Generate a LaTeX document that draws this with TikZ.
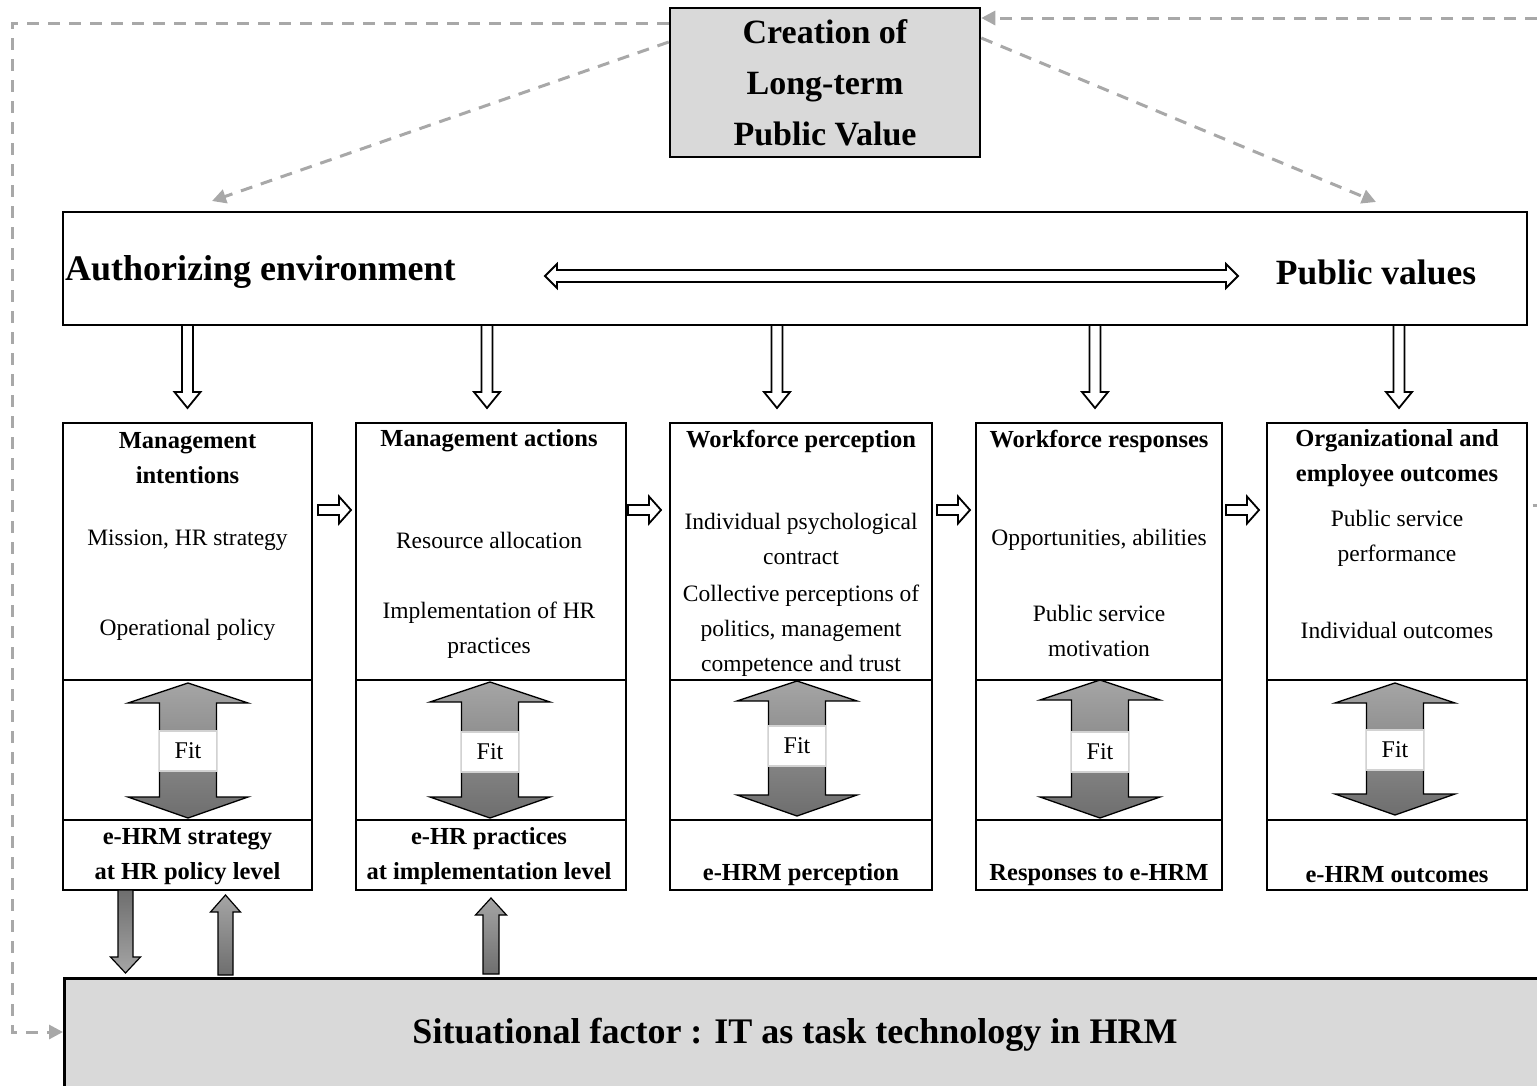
\documentclass[tikz,border=0pt]{standalone}
\usepackage{fontspec}
\setmainfont{Liberation Serif}
\usetikzlibrary{arrows.meta}

\definecolor{boxgrey}{RGB}{217,217,217}
\definecolor{dashgrey}{RGB}{168,168,168}
\definecolor{fitlight}{RGB}{165,165,165}
\definecolor{fitdark}{RGB}{110,110,110}

% block arrow along y: [style]{x}{tail y}{head base y}{tip y}{half shaft}{half head}
\newcommand{\varrowpath}[7][]{%
  \draw[#1] ({#2-#6},#3) -- ({#2-#6},#4) -- ({#2-#7},#4) -- (#2,#5)
    -- ({#2+#7},#4) -- ({#2+#6},#4) -- ({#2+#6},#3) -- cycle;}
% block arrow along x: [style]{y}{tail x}{head base x}{tip x}{half shaft}{half head}
\newcommand{\harrowpath}[7][]{%
  \draw[#1] (#3,{#2-#6}) -- (#4,{#2-#6}) -- (#4,{#2-#7}) -- (#5,#2)
    -- (#4,{#2+#7}) -- (#4,{#2+#6}) -- (#3,{#2+#6}) -- cycle;}

\begin{document}
\begin{tikzpicture}[x=1pt, y=-1pt,
    > = {Triangle[length=14pt,width=14pt]},
    frame/.style={draw, line width=1.3pt, inner sep=0},
    head/.style={font=\fontsize{24.5}{35}\selectfont\bfseries, align=center, inner sep=0},
    body/.style={font=\fontsize{23.5}{35}\selectfont, align=center, inner sep=0},
    big/.style={font=\fontsize{34}{51}\selectfont\bfseries, align=center, inner sep=0},
    dashline/.style={draw=dashgrey, line width=3pt, dash pattern=on 12pt off 9pt},
    openarrow/.style={draw, line width=1.8pt, fill=white, line join=miter},
    fitarrow/.style={draw, line width=1.3pt, top color=fitlight, bottom color=fitdark},
    fitbox/.style={draw=gray!35, line width=1.5pt, fill=white, inner sep=0,
      minimum width=57pt, minimum height=40pt, font=\fontsize{24}{28}\selectfont},
  ]
    \useasboundingbox (0,0) rectangle (1537,1085);

    % Top and environment
    \node[frame, line width=2.5pt, fill=boxgrey, minimum width=310pt,
      minimum height=149pt, big] (create) at (825,82.5)
      {Creation of\\Long-term\\Public Value};
    \node[frame, line width=2.2pt, minimum width=1464pt, minimum height=113pt]
      (env) at (795,268.5) {};
    \node[big, font=\fontsize{36}{51}\selectfont\bfseries, anchor=west] (auth) at (65,272) {Authorizing environment};
    \node[big, font=\fontsize{35.5}{51}\selectfont\bfseries] (pubval) at (1376,272) {Public values};
    \draw[openarrow] (545,276) -- (557,264) -- (557,270) -- (1226,270) -- (1226,264)
      -- (1238,276) -- (1226,288) -- (1226,282) -- (557,282) -- (557,288) -- cycle;

    % Columns
    \foreach \n/\l/\r in {1/63/312, 2/356/626, 3/670/932, 4/976/1222, 5/1267/1527}{
        \node[frame, minimum width={\r-\l}, minimum height=467pt]
          (col\n) at ({(\l+\r)/2},656.5) {};
        \draw[line width=1.3pt] (col\n.west |- 0,680) -- (col\n.east |- 0,680);
        \draw[line width=1.3pt] (col\n.west |- 0,820) -- (col\n.east |- 0,820);
    }
    \foreach \x in {187.5, 487, 777, 1095, 1399}
        \varrowpath[openarrow]{\x}{325}{392}{408}{5.5}{13};
    \foreach \x in {318, 628, 937, 1226}
        \harrowpath[openarrow]{510}{\x}{\x+21}{\x+33}{5}{13.5};

    % Fit arrows
    \foreach \n/\cx/\t/\b/\fy in {1/188/683/818/751, 2/490/682/818/752,
      3/797/681/816/746, 4/1100/680/818/752, 5/1395/683/815/750}{
        \draw[fitarrow] (\cx,\t) -- ({\cx+60},{\t+20}) -- ({\cx+28.5},{\t+20})
          -- ({\cx+28.5},{\b-21}) -- ({\cx+60},{\b-21}) -- (\cx,\b)
          -- ({\cx-60},{\b-21}) -- ({\cx-28.5},{\b-21}) -- ({\cx-28.5},{\t+20})
          -- ({\cx-60},{\t+20}) -- cycle;
        \node[fitbox] (fit\n) at (\cx,\fy) {Fit};
    }

    % Column texts
    \node[head] (head1) at (187.5,458.5) {Management\\intentions};
    \node[body] (body1a) at (187.5,540) {Mission, HR strategy};
    \node[body] (body1b) at (187.5,630) {Operational policy};
    \node[head] (foot1) at (187.5,856.5) {e-HRM strategy\\at HR policy level};

    \node[head] (head2) at (489,441) {Management actions};
    \node[body] (body2a) at (489,540) {Resource allocation};
    \node[body] (body2b) at (489,630.5) {Implementation of HR\\practices};
    \node[head] (foot2) at (489,856.5) {e-HR practices\\at implementation level};

    \node[head] (head3) at (801,441) {Workforce perception};
    \node[body] (body3a) at (801,538.5) {Individual psychological\\contract};
    \node[body] (body3b) at (801,631) {Collective perceptions of\\politics, management\\competence and trust};
    \node[head] (foot3) at (801,875) {e-HRM perception};

    \node[head] (head4) at (1099,441) {Workforce responses};
    \node[body] (body4a) at (1099,540) {Opportunities, abilities};
    \node[body] (body4b) at (1099,630.5) {Public service\\motivation};
    \node[head] (foot4) at (1099,875) {Responses to e-HRM};

    \node[head] (head5) at (1397,458.5) {Organizational and\\employee outcomes};
    \node[body] (body5a) at (1397,538.5) {Public service\\performance};
    \node[body] (body5b) at (1397,630) {Individual outcomes};
    \node[head] (foot5) at (1397,875) {e-HRM outcomes};

    % Situational factor
    \node[frame, line width=3pt, fill=boxgrey, minimum width=1500pt,
      minimum height=130pt, anchor=north west] (situ) at (63,977) {};
    \node[big, font=\fontsize{36}{51}\selectfont\bfseries] (situtxt) at (795,1035)
      {Situational factor : IT as task technology in HRM};
    \varrowpath[draw, line width=1.2pt, top color=fitdark, bottom color=fitlight]{125.5}{890}{957}{973}{7.5}{15};
    \varrowpath[draw, line width=1.2pt, top color=fitlight, bottom color=fitdark]{225.5}{975}{912}{895}{7.5}{15};
    \varrowpath[draw, line width=1.2pt, top color=fitlight, bottom color=fitdark]{491}{974}{915}{898}{8}{15.5};

    % Dashed feedback lines
    \coordinate (authtip) at (212,201);
    \coordinate (valtip) at (1376,202);
    \coordinate (farright) at (1537,18);
    \draw[dashline, ->] (create.west |- 0,23) -- (12,23) -- (12,1032) -- (situ.west |- 0,1032);
    \draw[dashline, ->] (create.west |- 0,42) -- (authtip);
    \draw[dashline, ->] (create.east |- 0,38) -- (valtip);
    \draw[dashline, ->] (farright) -- (create.east |- 0,18);
    \draw[dashline, dash pattern=on 0pt off 5pt on 12pt off 9pt] (col5.east |- 0,505) -- (1545,505);
\end{tikzpicture}
\end{document}
